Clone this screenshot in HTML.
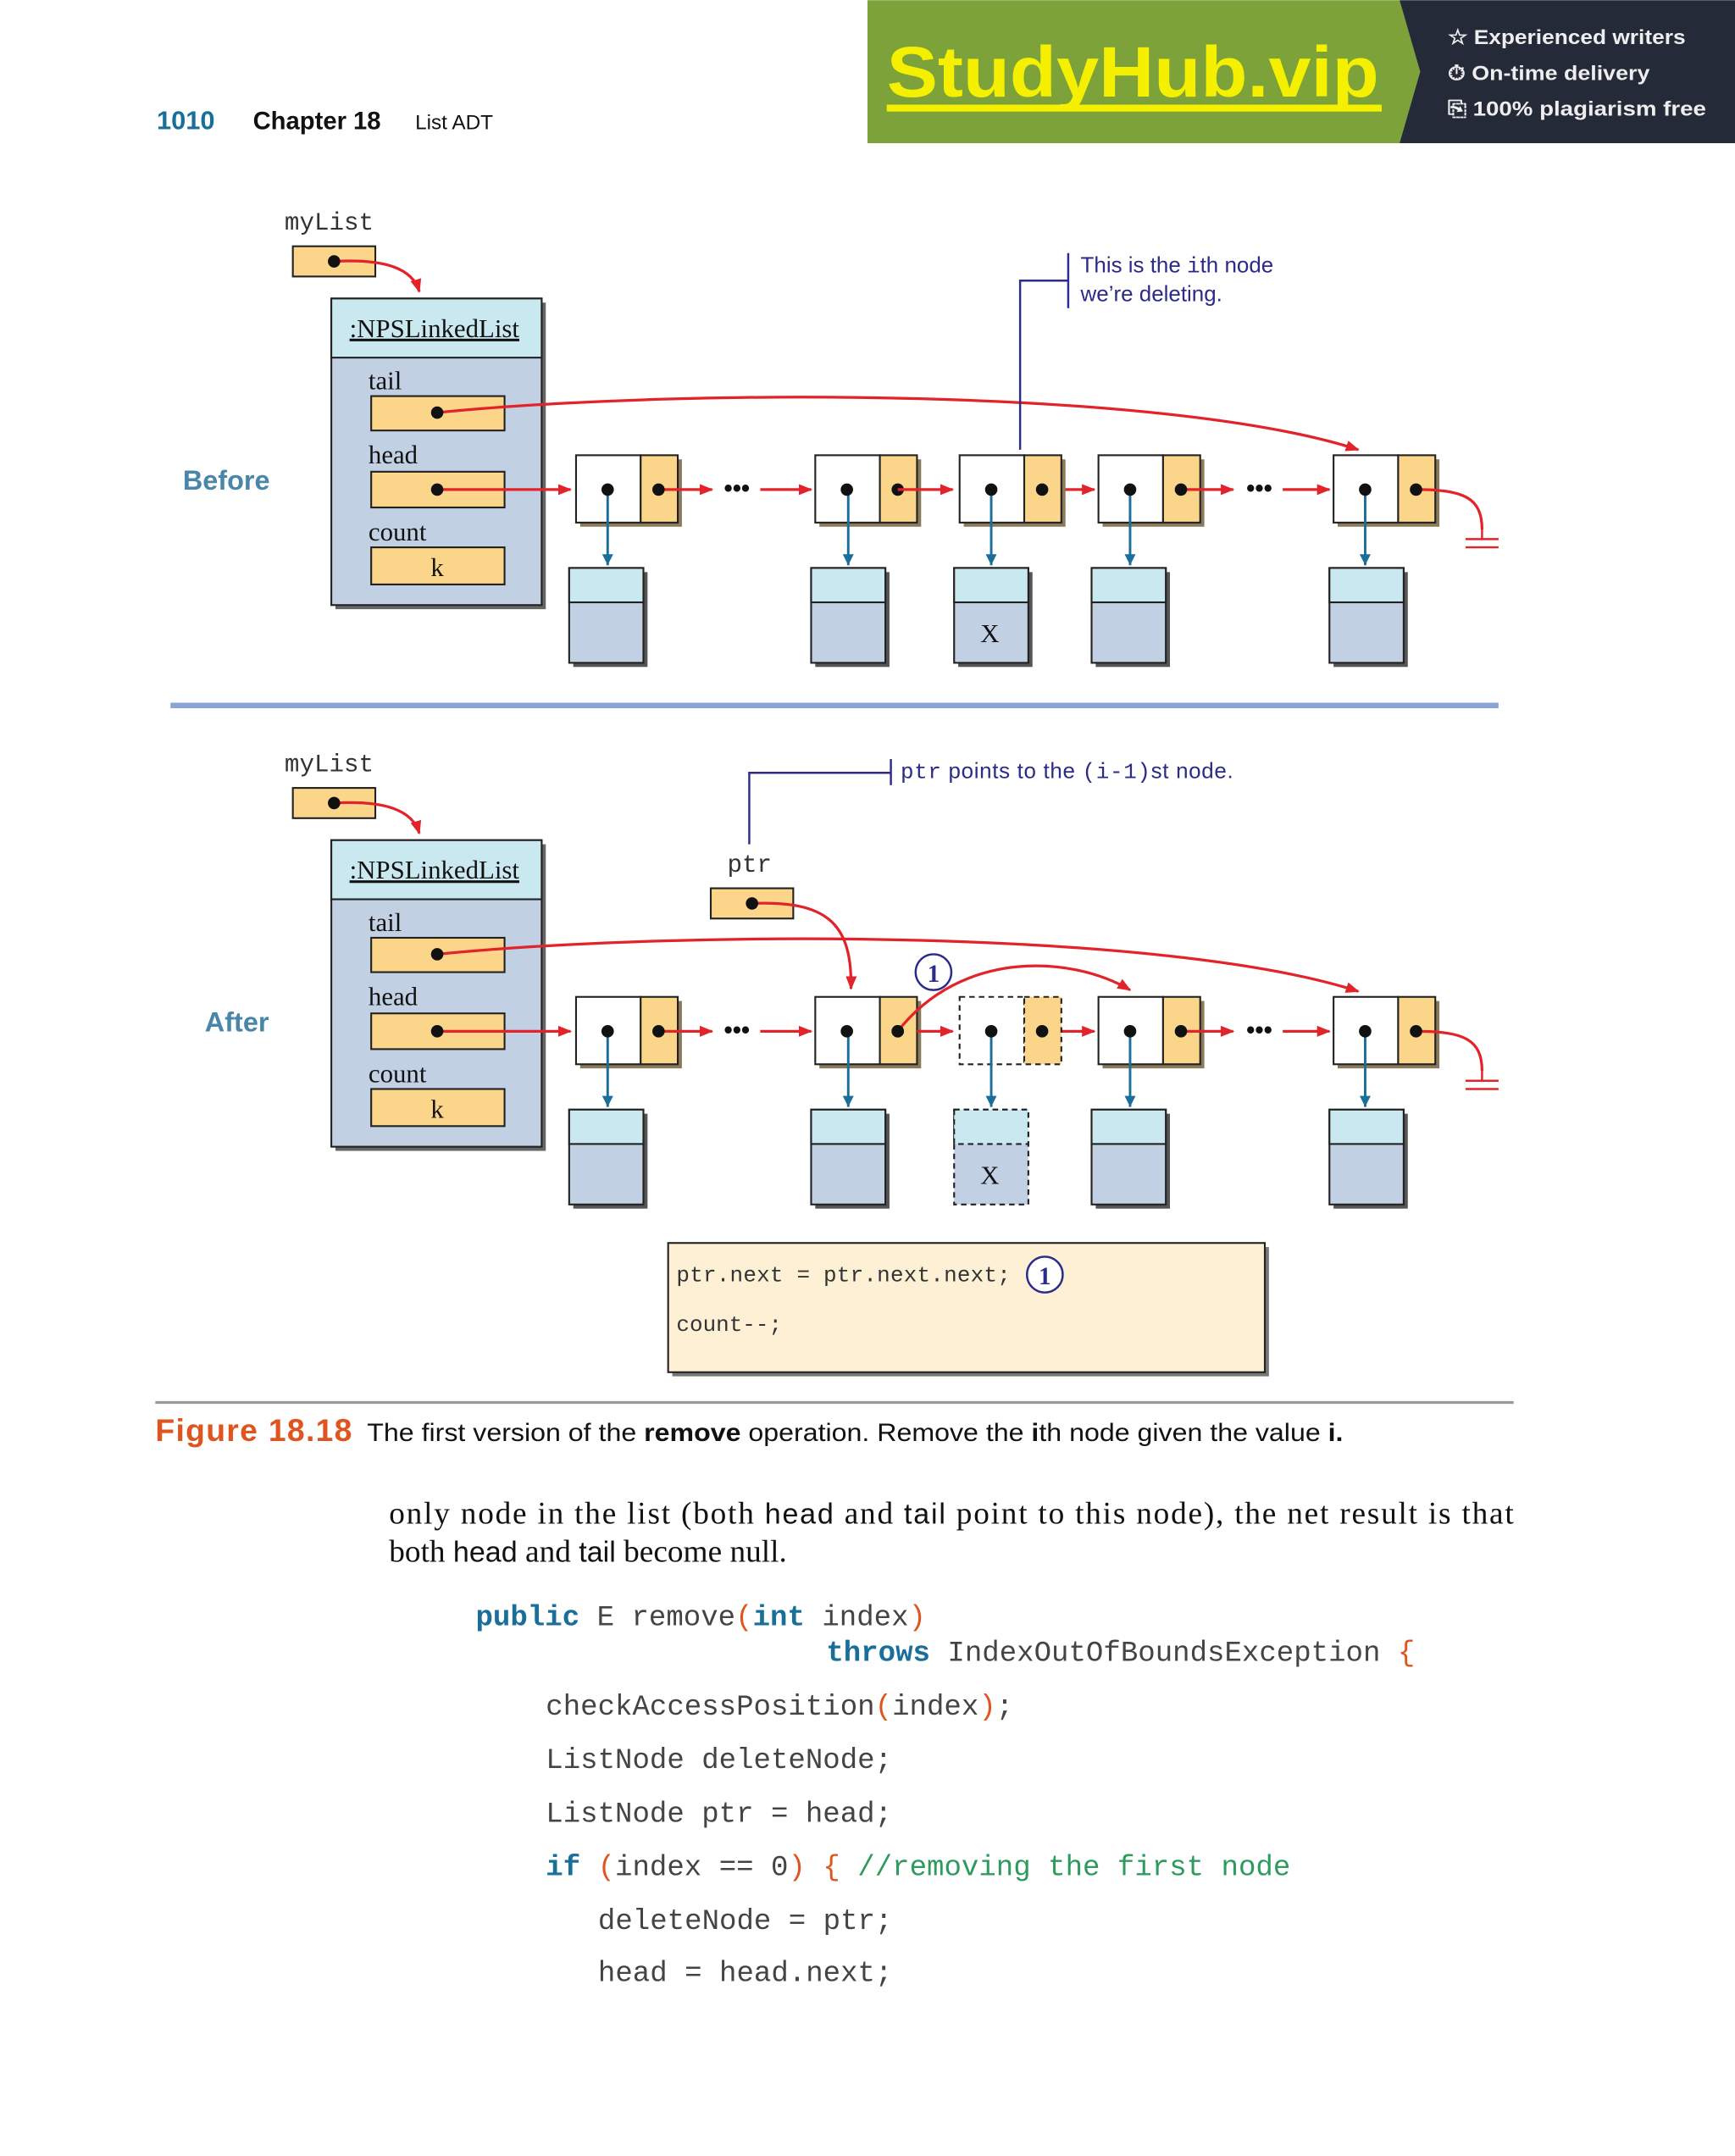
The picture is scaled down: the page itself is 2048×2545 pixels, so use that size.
<!DOCTYPE html>
<html><head><meta charset="utf-8"><style>
html,body{margin:0;padding:0;background:#fff}
svg{display:block}
.m{font-family:"Liberation Mono",monospace}
.s{font-family:"Liberation Serif",serif}
.a{font-family:"Liberation Sans",sans-serif}
</style></head><body>
<svg width="2048" height="2545" viewBox="0 0 1262 1568" xmlns="http://www.w3.org/2000/svg">
<defs>
<marker id="r" markerWidth="10" markerHeight="8" refX="9" refY="4" orient="auto" markerUnits="userSpaceOnUse"><path d="M0,0 L10,4 L0,8 z" fill="#e2232a"/></marker>
<marker id="bd" markerWidth="8" markerHeight="10" refX="8" refY="4" orient="auto" markerUnits="userSpaceOnUse"><path d="M0,0 L8,4 L0,8 z" fill="#1a6e9a"/></marker>
<g id="node"><rect x="3" y="3" width="74" height="49" fill="#8a7a5a"/><rect x="0" y="0" width="47" height="49" fill="#fff" stroke="#222" stroke-width="1.3"/><rect x="47" y="0" width="27" height="49" fill="#fbd58a" stroke="#222" stroke-width="1.3"/></g>
<g id="dots"><circle cx="23" cy="25" r="4.5" fill="#111"/><circle cx="60" cy="25" r="4.5" fill="#111"/></g>
<g id="data"><rect x="3" y="3" width="54" height="69" fill="#555"/><rect x="0" y="0" width="54" height="69" fill="#c2d0e4" stroke="#222" stroke-width="1.3"/><rect x="0" y="0" width="54" height="25" fill="#c9e8f0" stroke="#222" stroke-width="1.3"/></g>
<g id="lst">
<text x="207" y="167" class="m" font-size="18" fill="#333">myList</text>
<rect x="213" y="179" width="60" height="22" fill="#fbd58a" stroke="#222" stroke-width="1.3"/>
<path d="M243,190 C280,188 300,195 305,212" fill="none" stroke="#e2232a" stroke-width="2" marker-end="url(#r)"/>
<circle cx="243" cy="190" r="4.5" fill="#111"/>
<rect x="244" y="220" width="153" height="223" fill="#666"/>
<rect x="241" y="217" width="153" height="223" fill="#c2d0e4" stroke="#222" stroke-width="1.3"/>
<rect x="241" y="217" width="153" height="43" fill="#c9e8f0" stroke="#222" stroke-width="1.3"/>
<text x="316" y="245" class="s" font-size="19" text-anchor="middle" fill="#111" text-decoration="underline">:NPSLinkedList</text>
<text x="268" y="283" class="s" font-size="19" fill="#111">tail</text>
<rect x="270" y="288" width="97" height="25" fill="#fbd58a" stroke="#222" stroke-width="1.3"/>
<text x="268" y="337" class="s" font-size="19" fill="#111">head</text>
<rect x="270" y="343" width="97" height="26" fill="#fbd58a" stroke="#222" stroke-width="1.3"/>
<text x="268" y="393" class="s" font-size="19" fill="#111">count</text>
<rect x="270" y="398" width="97" height="27" fill="#fbd58a" stroke="#222" stroke-width="1.3"/>
<text x="318" y="419" class="s" font-size="19" text-anchor="middle" fill="#111">k</text>
<use href="#node" x="419" y="331"/><use href="#node" x="593" y="331"/>
<use href="#node" x="799" y="331"/><use href="#node" x="970" y="331"/>
<use href="#data" x="414" y="413"/><use href="#data" x="590" y="413"/>
<use href="#data" x="794" y="413"/><use href="#data" x="967" y="413"/>
<path d="M318,300 C500,282 850,282 988,327" fill="none" stroke="#e2232a" stroke-width="2" marker-end="url(#r)"/>
<g stroke="#e2232a" stroke-width="2" marker-end="url(#r)">
<line x1="318" y1="356" x2="415" y2="356"/><line x1="479" y1="356" x2="518" y2="356"/>
<line x1="553" y1="356" x2="590" y2="356"/><line x1="758" y1="356" x2="796" y2="356"/>
<line x1="859" y1="356" x2="897" y2="356"/><line x1="933" y1="356" x2="967" y2="356"/>
</g>
<circle cx="318" cy="300" r="4.5" fill="#111"/>
<circle cx="318" cy="356" r="4.5" fill="#111"/>
<text x="536" y="361" class="a" font-size="18" font-weight="bold" text-anchor="middle" fill="#111">•••</text>
<text x="916" y="361" class="a" font-size="18" font-weight="bold" text-anchor="middle" fill="#111">•••</text>
<path d="M1030,356 C1065,356 1078,362 1078,385" fill="none" stroke="#e2232a" stroke-width="2"/>
<path d="M1078,385 L1078,392 M1066,392 L1090,392 M1066,398 L1090,398" stroke="#e2232a" stroke-width="1.5"/>
<g stroke="#1a6e9a" stroke-width="1.8" marker-end="url(#bd)">
<line x1="442" y1="356" x2="442" y2="411"/><line x1="617" y1="356" x2="617" y2="411"/>
<line x1="822" y1="356" x2="822" y2="411"/>
<line x1="993" y1="356" x2="993" y2="411"/>
</g>
<use href="#dots" x="419" y="331"/><use href="#dots" x="593" y="331"/>
<use href="#dots" x="799" y="331"/><use href="#dots" x="970" y="331"/>
</g>
</defs>

<!-- banner -->
<polygon points="631,0 1018,0 1033,52 1018,104 631,104" fill="#7ea23a"/>
<polygon points="1018,0 1262,0 1262,104 1018,104 1033,52" fill="#252a38"/>
<text x="645" y="70" class="a" font-size="52" font-weight="bold" fill="#f4f000" textLength="358" lengthAdjust="spacingAndGlyphs">StudyHub.vip</text>
<rect x="645" y="76" width="360" height="5" fill="#f4f000"/>
<g class="a" font-size="15" font-weight="bold" fill="#eee">
<text x="1053" y="32" textLength="173" lengthAdjust="spacingAndGlyphs">☆ Experienced writers</text>
<text x="1053" y="58" textLength="147" lengthAdjust="spacingAndGlyphs">⏱ On-time delivery</text>
<text x="1053" y="84" textLength="188" lengthAdjust="spacingAndGlyphs">⎘ 100% plagiarism free</text>
</g>

<!-- header -->
<text x="114" y="94" class="a" font-size="19" font-weight="bold" fill="#1a6e9a">1010</text>
<text x="184" y="94" class="a" font-size="18" font-weight="bold" fill="#111">Chapter 18</text>
<text x="302" y="94" class="a" font-size="15" fill="#111">List ADT</text>

<!-- before -->
<use href="#lst"/>
<use href="#node" x="698" y="331"/>
<use href="#data" x="694" y="413"/>
<text x="720" y="467" class="s" font-size="19" text-anchor="middle" fill="#111">X</text>
<line x1="653" y1="356" x2="693" y2="356" stroke="#e2232a" stroke-width="2" marker-end="url(#r)"/>
<line x1="721" y1="356" x2="721" y2="411" stroke="#1a6e9a" stroke-width="1.8" marker-end="url(#bd)"/>
<use href="#dots" x="698" y="331"/>
<path d="M742,327 V204 H777" fill="none" stroke="#2b2b8a" stroke-width="1.5"/>
<line x1="777" y1="184" x2="777" y2="224" stroke="#2b2b8a" stroke-width="1.5"/>
<text x="786" y="198" class="a" font-size="16" fill="#2b2b8a">This is the <tspan class="m">i</tspan>th node</text>
<text x="786" y="219" class="a" font-size="16" fill="#2b2b8a">we’re deleting.</text>
<text x="133" y="356" class="a" font-size="20" font-weight="bold" fill="#4a86a8">Before</text>

<line x1="124" y1="513" x2="1090" y2="513" stroke="#8aa4d6" stroke-width="4"/>

<!-- after -->
<g transform="translate(0,394)"><use href="#lst"/></g>
<text x="149" y="750" class="a" font-size="20" font-weight="bold" fill="#4a86a8">After</text>
<rect x="698" y="725" width="47" height="49" fill="#fff" stroke="#222" stroke-width="1.3" stroke-dasharray="4,3"/>
<rect x="745" y="725" width="27" height="49" fill="#fbd58a" stroke="#222" stroke-width="1.3" stroke-dasharray="4,3"/>
<rect x="694" y="807" width="54" height="69" fill="#c2d0e4" stroke="#222" stroke-width="1.3" stroke-dasharray="4,3"/>
<rect x="694" y="807" width="54" height="25" fill="#c9e8f0" stroke="#222" stroke-width="1.3" stroke-dasharray="4,3"/>
<text x="720" y="861" class="s" font-size="19" text-anchor="middle" fill="#111">X</text>
<line x1="721" y1="750" x2="721" y2="805" stroke="#1a6e9a" stroke-width="1.8" marker-end="url(#bd)"/>
<line x1="667" y1="750" x2="693" y2="750" stroke="#e2232a" stroke-width="2" marker-end="url(#r)"/>
<path d="M653,750 C700,690 780,695 822,720" fill="none" stroke="#e2232a" stroke-width="2" marker-end="url(#r)"/>
<circle cx="721" cy="750" r="4.5" fill="#111"/><circle cx="758" cy="750" r="4.5" fill="#111"/>
<circle cx="653" cy="750" r="4.5" fill="#111"/>
<circle cx="679" cy="707" r="13" fill="#fff" stroke="#2b2b8a" stroke-width="1.5"/>
<text x="679" y="714" class="s" font-size="18" font-weight="bold" text-anchor="middle" fill="#2b2b8a">1</text>
<text x="529" y="634" class="m" font-size="18" fill="#333">ptr</text>
<rect x="517" y="646" width="60" height="22" fill="#fbd58a" stroke="#222" stroke-width="1.3"/>
<path d="M547,657 C600,655 620,670 619,719" fill="none" stroke="#e2232a" stroke-width="2" marker-end="url(#r)"/>
<circle cx="547" cy="657" r="4.5" fill="#111"/>
<path d="M545,614 V562 H648" fill="none" stroke="#2b2b8a" stroke-width="1.5"/>
<line x1="648" y1="552" x2="648" y2="571" stroke="#2b2b8a" stroke-width="1.5"/>
<text x="655" y="566" class="a" font-size="16" fill="#2b2b8a" textLength="242" lengthAdjust="spacing"><tspan class="m">ptr</tspan> points to the <tspan class="m">(i-1)</tspan>st node.</text>
<rect x="489" y="907" width="434" height="94" fill="#777"/>
<rect x="486" y="904" width="434" height="94" fill="#fdf0d5" stroke="#222" stroke-width="1.3"/>
<text x="492" y="932" class="m" font-size="16" fill="#333" textLength="243">ptr.next = ptr.next.next;</text>
<text x="492" y="968" class="m" font-size="16" fill="#333">count--;</text>
<circle cx="760" cy="927" r="13" fill="#fff" stroke="#2b2b8a" stroke-width="1.5"/>
<text x="760" y="934" class="s" font-size="18" font-weight="bold" text-anchor="middle" fill="#2b2b8a">1</text>

<line x1="113" y1="1020" x2="1101" y2="1020" stroke="#999" stroke-width="2"/>
<text x="113" y="1048" class="a" font-size="23" font-weight="bold" fill="#e0541f" textLength="143">Figure 18.18</text>
<text x="267" y="1048" class="a" font-size="18.5" fill="#111" textLength="710" lengthAdjust="spacingAndGlyphs">The first version of the <tspan font-weight="bold">remove</tspan> operation. Remove the <tspan font-weight="bold">i</tspan>th node given the value <tspan font-weight="bold">i.</tspan></text>

<text x="283" y="1108" class="s" font-size="23" fill="#111" textLength="818" lengthAdjust="spacing">only node in the list (both <tspan class="a" font-size="21">head</tspan> and <tspan class="a" font-size="21">tail</tspan> point to this node), the net result is that</text>
<text x="283" y="1136" class="s" font-size="23" fill="#111">both <tspan class="a" font-size="21">head</tspan> and <tspan class="a" font-size="21">tail</tspan> become null.</text>

<g class="m" font-size="21" fill="#444">
<text x="346" y="1182"><tspan fill="#1a6e9a" font-weight="bold">public</tspan> E remove<tspan fill="#e0541f">(</tspan><tspan fill="#1a6e9a" font-weight="bold">int</tspan> index<tspan fill="#e0541f">)</tspan></text>
<text x="601" y="1208"><tspan fill="#1a6e9a" font-weight="bold">throws</tspan> IndexOutOfBoundsException <tspan fill="#e0541f">{</tspan></text>
<text x="397" y="1247">checkAccessPosition<tspan fill="#e0541f">(</tspan>index<tspan fill="#e0541f">)</tspan>;</text>
<text x="397" y="1286">ListNode deleteNode;</text>
<text x="397" y="1325">ListNode ptr = head;</text>
<text x="397" y="1364"><tspan fill="#1a6e9a" font-weight="bold">if</tspan> <tspan fill="#e0541f">(</tspan>index == 0<tspan fill="#e0541f">)</tspan> <tspan fill="#e0541f">{</tspan> <tspan fill="#2e9a5e">//removing the first node</tspan></text>
<text x="435" y="1403">deleteNode = ptr;</text>
<text x="435" y="1441">head = head.next;</text>
</g>
</svg>
</body></html>
